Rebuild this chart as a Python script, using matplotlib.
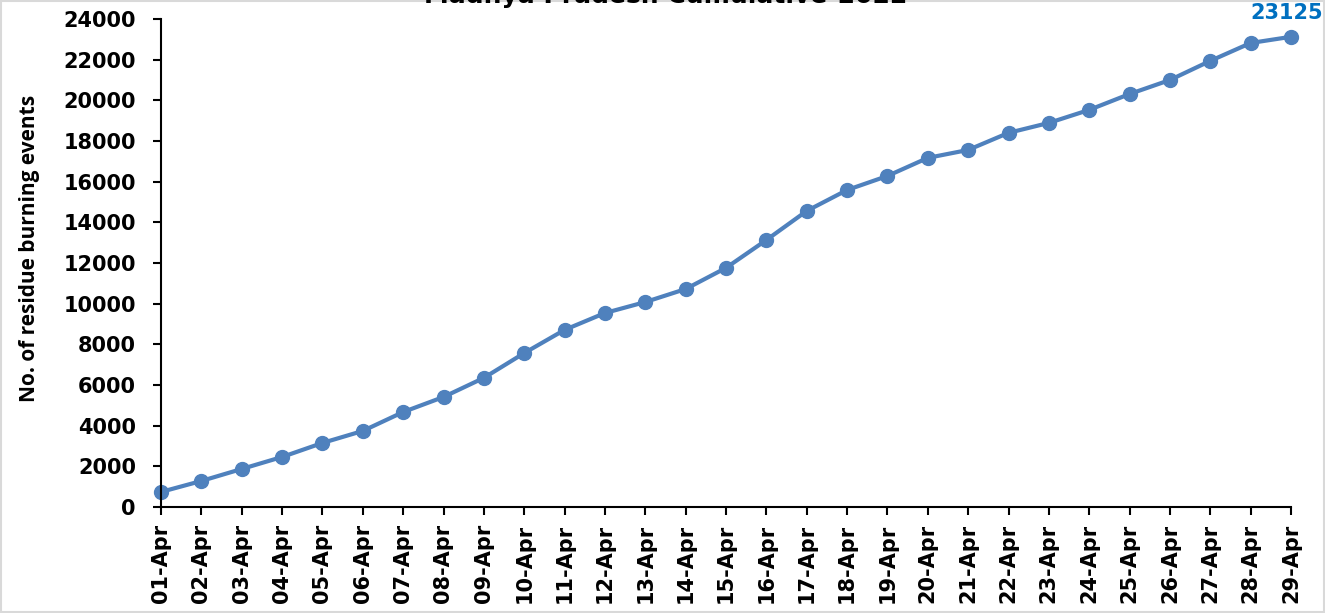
import matplotlib.pyplot as plt
from matplotlib.patches import Rectangle

plt.rcParams["font.family"] = ["DejaVu Sans"]
plt.rcParams["font.weight"] = "bold"

dates = ['01-Apr', '02-Apr', '03-Apr', '04-Apr', '05-Apr', '06-Apr', '07-Apr',
         '08-Apr', '09-Apr', '10-Apr', '11-Apr', '12-Apr', '13-Apr', '14-Apr',
         '15-Apr', '16-Apr', '17-Apr', '18-Apr', '19-Apr', '20-Apr', '21-Apr',
         '22-Apr', '23-Apr', '24-Apr', '25-Apr', '26-Apr', '27-Apr', '28-Apr',
         '29-Apr']
events = [740, 1280, 1870, 2460, 3150, 3740, 4670, 5410, 6350, 7570,
          8710, 9540, 10080, 10720, 11760, 13130, 14560, 15590, 16280, 17170,
          17560, 18400, 18890, 19530, 20310, 21000, 21940, 22820, 23125]
yticks = list(range(0, 24001, 2000))

fig = plt.figure(figsize=(13.25, 6.13), dpi=100)
ax = fig.add_axes([161/1325, 1 - 507/613, 1130/1325, 488/613])

x = list(range(len(dates)))
ax.plot(x, events, color='#4F81BD', lw=3, marker='o', markersize=10, clip_on=False)

# label on the last point
ax.annotate(str(events[-1]), (x[-1], events[-1]), xytext=(-3, 10),
            textcoords='offset points', color='#0070C0', fontsize=15,
            fontweight='bold', ha='center', va='bottom')

ax.set_xlim(0, len(dates) - 1)
ax.set_ylim(0, 24000)
ax.set_xticks(x)
ax.set_xticklabels(dates, rotation=90, fontsize=15, fontweight='bold')
ax.set_yticks(yticks)
ax.set_yticklabels([str(v) for v in yticks], fontsize=15, fontweight='bold')
ax.tick_params(direction='out', length=6, width=1.5, colors='black')
ax.tick_params(axis='x', pad=6)
ax.tick_params(axis='y', pad=12)

for s in ['top', 'right']:
    ax.spines[s].set_visible(False)
for s in ['left', 'bottom']:
    ax.spines[s].set_linewidth(1.5)

ax.set_ylabel('No. of residue burning events', fontsize=15, fontweight='bold',
              family='Open Sans')
ax.yaxis.set_label_coords(-0.107, 0.53)

fig.text(0.502, 1 - 3/613, 'Madhya Pradesh Cumulative-2022', ha='center',
         va='baseline', fontsize=18, fontweight='bold')

# light frame around the chart
fig.patches.append(Rectangle((0.001, 0.001), 0.998, 0.998, transform=fig.transFigure,
                             fill=False, edgecolor='#d9d9d9', lw=1.5))

fig.savefig('out.png', dpi=100)
